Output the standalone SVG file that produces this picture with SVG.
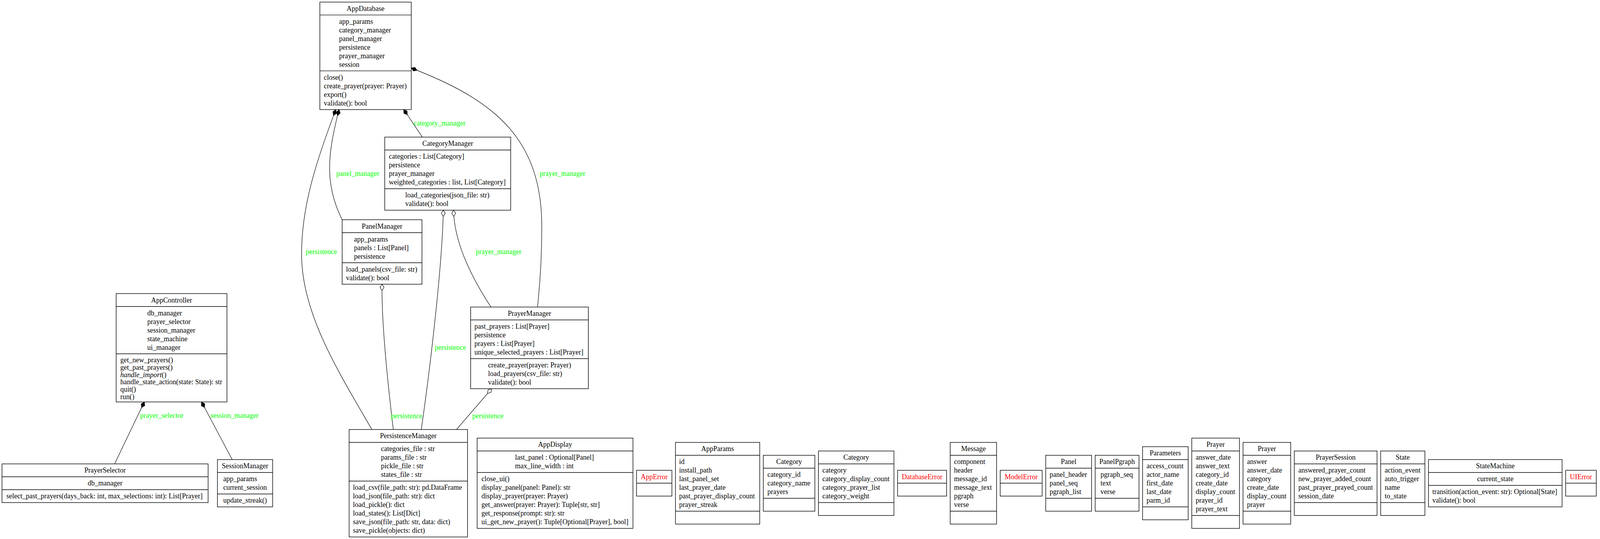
<svg xmlns="http://www.w3.org/2000/svg" width="4334" height="1379" viewBox="0 0 4334 1379">
<style>
text { font-family: "Liberation Serif", "Times New Roman", serif; font-size: 18px; fill: #000; }
.c { text-anchor: middle; }
.red { fill: #ff0000; }
.lbl { fill: #00ff00; }
.box { fill: #fff; stroke: #000; stroke-width: 1.4; }
.sep { stroke: #000; stroke-width: 1.4; }
.edge { fill: none; stroke: #000; stroke-width: 1.2; }
.fd { fill: #000; stroke: #000; stroke-width: 1.2; }
.hd { fill: #fff; stroke: #000; stroke-width: 1.2; }
</style>
<rect x="0" y="0" width="4334" height="1379" fill="#fff"/>

<g id="AppDatabase">
<rect class="box" x="818.8" y="5.4" width="234" height="275"/>
<line class="sep" x1="818.8" y1="38.4" x2="1052.8" y2="38.4"/>
<line class="sep" x1="818.8" y1="181.4" x2="1052.8" y2="181.4"/>
<text class="c" x="935.8" y="27.7">AppDatabase</text>
<text x="868" y="60.7">app_params<tspan x="868" dy="22">category_manager</tspan><tspan x="868" dy="22">panel_manager</tspan><tspan x="868" dy="22">persistence</tspan><tspan x="868" dy="22">prayer_manager</tspan><tspan x="868" dy="22">session</tspan></text>
<text x="829" y="203.7">close()<tspan x="829" dy="22">create_prayer(prayer: Prayer)</tspan><tspan x="829" dy="22">export()</tspan><tspan x="829" dy="22">validate(): bool</tspan></text>
</g>

<g id="CategoryManager">
<rect class="box" x="984.9" y="350.7" width="322.5" height="187"/>
<line class="sep" x1="984.9" y1="383.7" x2="1307.4" y2="383.7"/>
<line class="sep" x1="984.9" y1="482.7" x2="1307.4" y2="482.7"/>
<text class="c" x="1146.2" y="373">CategoryManager</text>
<text x="995.5" y="406">categories : List[Category]<tspan x="995.5" dy="22">persistence</tspan><tspan x="995.5" dy="22">prayer_manager</tspan><tspan x="995.5" dy="22">weighted_categories : list, List[Category]</tspan></text>
<text x="1037.5" y="505">load_categories(json_file: str)<tspan x="1037.5" dy="22">validate(): bool</tspan></text>
</g>

<g id="PanelManager">
<rect class="box" x="875.9" y="562.2" width="204.4" height="165"/>
<line class="sep" x1="875.9" y1="595.2" x2="1080.3" y2="595.2"/>
<line class="sep" x1="875.9" y1="672.2" x2="1080.3" y2="672.2"/>
<text class="c" x="978.1" y="584.5">PanelManager</text>
<text x="906.3" y="617.5">app_params<tspan x="906.3" dy="22">panels : List[Panel]</tspan><tspan x="906.3" dy="22">persistence</tspan></text>
<text x="885.7" y="694.5">load_panels(csv_file: str)<tspan x="885.7" dy="22">validate(): bool</tspan></text>
</g>

<g id="PrayerManager">
<rect class="box" x="1204.8" y="785.5" width="301.4" height="209"/>
<line class="sep" x1="1204.8" y1="818.5" x2="1506.2" y2="818.5"/>
<line class="sep" x1="1204.8" y1="917.5" x2="1506.2" y2="917.5"/>
<text class="c" x="1355.5" y="807.8">PrayerManager</text>
<text x="1214.6" y="840.8">past_prayers : List[Prayer]<tspan x="1214.6" dy="22">persistence</tspan><tspan x="1214.6" dy="22">prayers : List[Prayer]</tspan><tspan x="1214.6" dy="22">unique_selected_prayers : List[Prayer]</tspan></text>
<text x="1249.6" y="939.8">create_prayer(prayer: Prayer)<tspan x="1249.6" dy="22">load_prayers(csv_file: str)</tspan><tspan x="1249.6" dy="22">validate(): bool</tspan></text>
</g>

<g id="AppController">
<rect class="box" x="297.4" y="751.2" width="283.6" height="277.2"/>
<line class="sep" x1="297.4" y1="784.2" x2="581" y2="784.2"/>
<line class="sep" x1="297.4" y1="905.2" x2="581" y2="905.2"/>
<text class="c" x="439.2" y="773.5">AppController</text>
<text x="377" y="806.5">db_manager<tspan x="377" dy="22">prayer_selector</tspan><tspan x="377" dy="22">session_manager</tspan><tspan x="377" dy="22">state_machine</tspan><tspan x="377" dy="22">ui_manager</tspan></text>
<text x="308" y="927.2">get_new_prayers()<tspan x="308" dy="18.7">get_past_prayers()</tspan><tspan x="308" dy="18.7" font-style="italic">handle_import</tspan><tspan>()</tspan><tspan x="308" dy="18.7">handle_state_action(state: State): str</tspan><tspan x="308" dy="18.7">quit()</tspan><tspan x="308" dy="18.7">run()</tspan></text>
</g>

<g id="PrayerSelector">
<rect class="box" x="5.1" y="1186.8" width="527.6" height="99"/>
<line class="sep" x1="5.1" y1="1219.8" x2="532.7" y2="1219.8"/>
<line class="sep" x1="5.1" y1="1252.8" x2="532.7" y2="1252.8"/>
<text class="c" x="268.9" y="1209.1">PrayerSelector</text>
<text class="c" x="268.9" y="1242.1">db_manager</text>
<text x="16.3" y="1275.1">select_past_prayers(days_back: int, max_selections: int): List[Prayer]</text>
</g>

<g id="SessionManager">
<rect class="box" x="556.6" y="1175.8" width="141.4" height="121"/>
<line class="sep" x1="556.6" y1="1208.8" x2="698" y2="1208.8"/>
<line class="sep" x1="556.6" y1="1263.8" x2="698" y2="1263.8"/>
<text class="c" x="627.3" y="1198.1">SessionManager</text>
<text x="571.4" y="1231.1">app_params<tspan x="571.4" dy="22">current_session</tspan></text>
<text x="571.4" y="1286.1">update_streak()</text>
</g>

<g id="PersistenceManager">
<rect class="box" x="893.7" y="1098.8" width="303.1" height="275"/>
<line class="sep" x1="893.7" y1="1131.8" x2="1196.8" y2="1131.8"/>
<line class="sep" x1="893.7" y1="1230.8" x2="1196.8" y2="1230.8"/>
<text class="c" x="1045.25" y="1121.1">PersistenceManager</text>
<text x="975.2" y="1154.1">categories_file : str<tspan x="975.2" dy="22">params_file : str</tspan><tspan x="975.2" dy="22">pickle_file : str</tspan><tspan x="975.2" dy="22">states_file : str</tspan></text>
<text x="903.4" y="1253.1">load_csv(file_path: str): pd.DataFrame<tspan x="903.4" dy="22">load_json(file_path: str): dict</tspan><tspan x="903.4" dy="22">load_pickle(): dict</tspan><tspan x="903.4" dy="22">load_states(): List[Dict]</tspan><tspan x="903.4" dy="22">save_json(file_path: str, data: dict)</tspan><tspan x="903.4" dy="22">save_pickle(objects: dict)</tspan></text>
</g>

<g id="AppDisplay">
<rect class="box" x="1221.5" y="1120.8" width="398.9" height="231"/>
<line class="sep" x1="1221.5" y1="1153.8" x2="1620.4" y2="1153.8"/>
<line class="sep" x1="1221.5" y1="1208.8" x2="1620.4" y2="1208.8"/>
<text class="c" x="1421" y="1143.1">AppDisplay</text>
<text x="1318.5" y="1176.1">last_panel : Optional[Panel]<tspan x="1318.5" dy="22">max_line_width : int</tspan></text>
<text x="1232.4" y="1231.1">close_ui()<tspan x="1232.4" dy="22">display_panel(panel: Panel): str</tspan><tspan x="1232.4" dy="22">display_prayer(prayer: Prayer)</tspan><tspan x="1232.4" dy="22">get_answer(prayer: Prayer): Tuple[str, str]</tspan><tspan x="1232.4" dy="22">get_response(prompt: str): str</tspan><tspan x="1232.4" dy="22">ui_get_new_prayer(): Tuple[Optional[Prayer], bool]</tspan></text>
</g>

<g id="AppError">
<rect class="box" x="1629.5" y="1203.3" width="90.6" height="66"/>
<line class="sep" x1="1629.5" y1="1236.3" x2="1720.1" y2="1236.3"/>
<text class="c red" x="1674.8" y="1225.6">AppError</text>
</g>

<g id="AppParams">
<rect class="box" x="1729.3" y="1131.8" width="215.6" height="209"/>
<line class="sep" x1="1729.3" y1="1164.8" x2="1944.9" y2="1164.8"/>
<line class="sep" x1="1729.3" y1="1307.8" x2="1944.9" y2="1307.8"/>
<text class="c" x="1837.1" y="1154.1">AppParams</text>
<text x="1738.6" y="1187.1">id<tspan x="1738.6" dy="22">install_path</tspan><tspan x="1738.6" dy="22">last_panel_set</tspan><tspan x="1738.6" dy="22">last_prayer_date</tspan><tspan x="1738.6" dy="22">past_prayer_display_count</tspan><tspan x="1738.6" dy="22">prayer_streak</tspan></text>
</g>

<g id="Category_1">
<rect class="box" x="1954.1" y="1164.8" width="132" height="143"/>
<line class="sep" x1="1954.1" y1="1197.8" x2="2086.1" y2="1197.8"/>
<line class="sep" x1="1954.1" y1="1274.8" x2="2086.1" y2="1274.8"/>
<text class="c" x="2020.1" y="1187.1">Category</text>
<text x="1964.6" y="1220.1">category_id<tspan x="1964.6" dy="22">category_name</tspan><tspan x="1964.6" dy="22">prayers</tspan></text>
</g>

<g id="Category_2">
<rect class="box" x="2095.3" y="1153.8" width="193.2" height="165"/>
<line class="sep" x1="2095.3" y1="1186.8" x2="2288.5" y2="1186.8"/>
<line class="sep" x1="2095.3" y1="1285.8" x2="2288.5" y2="1285.8"/>
<text class="c" x="2191.9" y="1176.1">Category</text>
<text x="2105.2" y="1209.1">category<tspan x="2105.2" dy="22">category_display_count</tspan><tspan x="2105.2" dy="22">category_prayer_list</tspan><tspan x="2105.2" dy="22">category_weight</tspan></text>
</g>

<g id="DatabaseError">
<rect class="box" x="2297.7" y="1203.3" width="125.6" height="66"/>
<line class="sep" x1="2297.7" y1="1236.3" x2="2423.3" y2="1236.3"/>
<text class="c red" x="2360.5" y="1225.6">DatabaseError</text>
</g>

<g id="Message">
<rect class="box" x="2432.5" y="1131.8" width="118.8" height="209"/>
<line class="sep" x1="2432.5" y1="1164.8" x2="2551.3" y2="1164.8"/>
<line class="sep" x1="2432.5" y1="1307.8" x2="2551.3" y2="1307.8"/>
<text class="c" x="2491.9" y="1154.1">Message</text>
<text x="2442.3" y="1187.1">component<tspan x="2442.3" dy="22">header</tspan><tspan x="2442.3" dy="22">message_id</tspan><tspan x="2442.3" dy="22">message_text</tspan><tspan x="2442.3" dy="22">pgraph</tspan><tspan x="2442.3" dy="22">verse</tspan></text>
</g>

<g id="ModelError">
<rect class="box" x="2560.5" y="1203.3" width="107.4" height="66"/>
<line class="sep" x1="2560.5" y1="1236.3" x2="2667.9" y2="1236.3"/>
<text class="c red" x="2614.2" y="1225.6">ModelError</text>
</g>

<g id="Panel">
<rect class="box" x="2677.1" y="1164.8" width="117.3" height="143"/>
<line class="sep" x1="2677.1" y1="1197.8" x2="2794.4" y2="1197.8"/>
<line class="sep" x1="2677.1" y1="1274.8" x2="2794.4" y2="1274.8"/>
<text class="c" x="2735.75" y="1187.1">Panel</text>
<text x="2687.1" y="1220.1">panel_header<tspan x="2687.1" dy="22">panel_seq</tspan><tspan x="2687.1" dy="22">pgraph_list</tspan></text>
</g>

<g id="PanelPgraph">
<rect class="box" x="2803.6" y="1164.8" width="112.2" height="143"/>
<line class="sep" x1="2803.6" y1="1197.8" x2="2915.8" y2="1197.8"/>
<line class="sep" x1="2803.6" y1="1274.8" x2="2915.8" y2="1274.8"/>
<text class="c" x="2859.7" y="1187.1">PanelPgraph</text>
<text x="2817.2" y="1220.1">pgraph_seq<tspan x="2817.2" dy="22">text</tspan><tspan x="2817.2" dy="22">verse</tspan></text>
</g>

<g id="Parameters">
<rect class="box" x="2925" y="1142.8" width="116.7" height="187"/>
<line class="sep" x1="2925" y1="1175.8" x2="3041.7" y2="1175.8"/>
<line class="sep" x1="2925" y1="1296.8" x2="3041.7" y2="1296.8"/>
<text class="c" x="2983.35" y="1165.1">Parameters</text>
<text x="2934.9" y="1198.1">access_count<tspan x="2934.9" dy="22">actor_name</tspan><tspan x="2934.9" dy="22">first_date</tspan><tspan x="2934.9" dy="22">last_date</tspan><tspan x="2934.9" dy="22">parm_id</tspan></text>
</g>

<g id="Prayer_1">
<rect class="box" x="3050.9" y="1120.8" width="122.1" height="231"/>
<line class="sep" x1="3050.9" y1="1153.8" x2="3173" y2="1153.8"/>
<line class="sep" x1="3050.9" y1="1318.8" x2="3173" y2="1318.8"/>
<text class="c" x="3111.95" y="1143.1">Prayer</text>
<text x="3060.9" y="1176.1">answer_date<tspan x="3060.9" dy="22">answer_text</tspan><tspan x="3060.9" dy="22">category_id</tspan><tspan x="3060.9" dy="22">create_date</tspan><tspan x="3060.9" dy="22">display_count</tspan><tspan x="3060.9" dy="22">prayer_id</tspan><tspan x="3060.9" dy="22">prayer_text</tspan></text>
</g>

<g id="Prayer_2">
<rect class="box" x="3182.2" y="1131.8" width="122" height="209"/>
<line class="sep" x1="3182.2" y1="1164.8" x2="3304.2" y2="1164.8"/>
<line class="sep" x1="3182.2" y1="1307.8" x2="3304.2" y2="1307.8"/>
<text class="c" x="3243.2" y="1154.1">Prayer</text>
<text x="3192.2" y="1187.1">answer<tspan x="3192.2" dy="22">answer_date</tspan><tspan x="3192.2" dy="22">category</tspan><tspan x="3192.2" dy="22">create_date</tspan><tspan x="3192.2" dy="22">display_count</tspan><tspan x="3192.2" dy="22">prayer</tspan></text>
</g>

<g id="PrayerSession">
<rect class="box" x="3313.4" y="1153.8" width="211.9" height="165"/>
<line class="sep" x1="3313.4" y1="1186.8" x2="3525.3" y2="1186.8"/>
<line class="sep" x1="3313.4" y1="1285.8" x2="3525.3" y2="1285.8"/>
<text class="c" x="3419.35" y="1176.1">PrayerSession</text>
<text x="3323.8" y="1209.1">answered_prayer_count<tspan x="3323.8" dy="22">new_prayer_added_count</tspan><tspan x="3323.8" dy="22">past_prayer_prayed_count</tspan><tspan x="3323.8" dy="22">session_date</tspan></text>
</g>

<g id="State">
<rect class="box" x="3534.5" y="1153.8" width="113.2" height="165"/>
<line class="sep" x1="3534.5" y1="1186.8" x2="3647.7" y2="1186.8"/>
<line class="sep" x1="3534.5" y1="1285.8" x2="3647.7" y2="1285.8"/>
<text class="c" x="3591.1" y="1176.1">State</text>
<text x="3544.8" y="1209.1">action_event<tspan x="3544.8" dy="22">auto_trigger</tspan><tspan x="3544.8" dy="22">name</tspan><tspan x="3544.8" dy="22">to_state</tspan></text>
</g>

<g id="StateMachine">
<rect class="box" x="3656.9" y="1175.8" width="342" height="121"/>
<line class="sep" x1="3656.9" y1="1208.8" x2="3998.9" y2="1208.8"/>
<line class="sep" x1="3656.9" y1="1241.8" x2="3998.9" y2="1241.8"/>
<text class="c" x="3827.9" y="1198.1">StateMachine</text>
<text class="c" x="3827.9" y="1231.1">current_state</text>
<text x="3666.7" y="1264.1">transition(action_event: str): Optional[State]<tspan x="3666.7" dy="22">validate(): bool</tspan></text>
</g>

<g id="UIError">
<rect class="box" x="4008.1" y="1203.3" width="78.4" height="66"/>
<line class="sep" x1="4008.1" y1="1236.3" x2="4086.5" y2="1236.3"/>
<text class="c red" x="4047.3" y="1225.6">UIError</text>
</g>

<g id="connectors">
<path class="edge" d="M854,295.4 C808.4,417 772,530 772,650 C772,800 862,944 952,1098.8"/>
<polygon class="fd" points="859.6,280.4 852.1,286.1 854,295.4 861.5,289.7"/>
<text class="lbl" x="782.7" y="650">persistence</text>

<path class="edge" d="M864,295.9 C840,394 830,471 876,562.2"/>
<polygon class="fd" points="868,280.4 861.2,287 864,295.9 870.9,289.4"/>
<text class="lbl" x="861" y="450">panel_manager</text>

<path class="edge" d="M1042.7,293.5 L1081,350.7"/>
<polygon class="fd" points="1033.5,280.4 1034,289.9 1042.7,293.5 1042.2,284.1"/>
<text class="lbl" x="1059" y="321">category_manager</text>

<path class="edge" d="M1067.7,179.9 C1272,261 1387,360 1387,580 C1387,660 1382,730 1376,785.5"/>
<polygon class="fd" points="1052.8,174 1058.4,181.6 1067.7,179.9 1062.1,172.3"/>
<text class="lbl" x="1381.6" y="450">prayer_manager</text>

<path class="edge" d="M1134.5,553.7 C1130,700 1100,950 1078.5,1098.8"/>
<polygon class="hd" points="1135,537.7 1129.8,545.5 1134.5,553.7 1139.8,545.9"/>
<text class="lbl" x="1113" y="895">persistence</text>

<path class="edge" d="M1162,553.7 C1168,630 1210,715 1257,785.5"/>
<polygon class="hd" points="1161,537.7 1156.5,546 1162,553.7 1166.5,545.4"/>
<text class="lbl" x="1218" y="650">prayer_manager</text>

<path class="edge" d="M978,743.2 C978,850 995,1000 1006.8,1098.8"/>
<polygon class="hd" points="978,727.2 973,735.2 978,743.2 983,735.2"/>
<text class="lbl" x="1001" y="1069.5">persistence</text>

<path class="edge" d="M1248.1,1006.7 L1168.6,1098.8"/>
<polygon class="hd" points="1258.5,994.5 1249.5,997.4 1248.1,1006.7 1257.1,1003.8"/>
<text class="lbl" x="1209" y="1069.5">persistence</text>

<path class="edge" d="M362.5,1042.8 L293.4,1186.8"/>
<polygon class="fd" points="369.5,1028.4 361.5,1033.4 362.5,1042.8 370.5,1037.8"/>
<text class="lbl" x="358.7" y="1069">prayer_selector</text>

<path class="edge" d="M523.6,1042.5 L594.4,1175.8"/>
<polygon class="fd" points="516,1028.4 515.4,1037.8 523.6,1042.5 524.2,1033"/>
<text class="lbl" x="539" y="1069">session_manager</text>
</g>
</svg>
